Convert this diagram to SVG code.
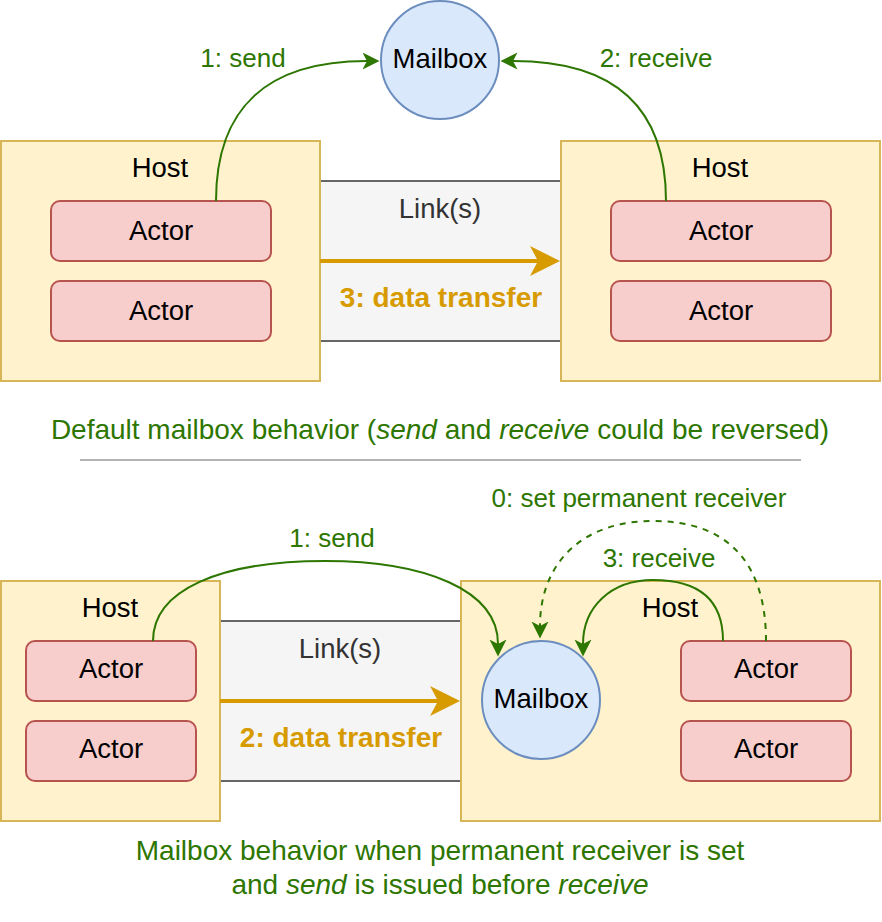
<svg xmlns="http://www.w3.org/2000/svg" width="882" height="922" viewBox="0 0 882 922">
<style>
text{font-family:"Liberation Sans",Arial,sans-serif;font-size:27.5px;text-anchor:middle}
.host{fill:#fff2cc;stroke:#d6b656;stroke-width:2}
.actor{fill:#f8cecc;stroke:#b85450;stroke-width:2}
.mb{fill:#dae8fc;stroke:#6c8ebf;stroke-width:2}
.linkbg{fill:#f5f5f5;stroke:none}
.linkln{stroke:#666666;stroke-width:2;fill:none}
.lt{fill:#333333}
.g{fill:#2d7600}
.el{font-size:26px}
.cap{font-size:28px}
.o{fill:#d79b00;font-weight:bold;font-size:28px}
.ge{fill:none;stroke:#2d7600;stroke-width:2}
.oe{fill:none;stroke:#d79b00;stroke-width:4}
.it{font-style:italic}
</style>
<defs>
<marker id="ag" markerUnits="userSpaceOnUse" markerWidth="18" markerHeight="18" refX="4.5" refY="8.5" orient="auto" viewBox="0 0 18 18">
<path d="M0,0 L17,8.5 L0,17 L4.5,8.5 Z" fill="#2d7600"/>
</marker>
<marker id="ao" markerUnits="userSpaceOnUse" markerWidth="31" markerHeight="31" refX="8" refY="15" orient="auto" viewBox="0 0 31 31">
<path d="M0,0 L30,15 L0,30 L8,15 Z" fill="#d79b00"/>
</marker>
</defs>

<!-- top section -->
<g id="link-top">
<rect class="linkbg" x="320" y="181" width="240" height="160"/>
<line class="linkln" x1="320" y1="181" x2="560" y2="181"/>
<line class="linkln" x1="320" y1="341" x2="560" y2="341"/>
<text class="lt" x="440" y="218">Link(s)</text>
</g>
<g id="host-top-left">
<rect class="host" x="1" y="141" width="319" height="240"/>
<text x="160" y="177">Host</text>
</g>
<g id="actor-tl-1"><rect class="actor" x="51" y="201" width="220" height="60" rx="9"/><text x="161" y="240">Actor</text></g>
<g id="actor-tl-2"><rect class="actor" x="51" y="281" width="220" height="60" rx="9"/><text x="161" y="320">Actor</text></g>
<g id="host-top-right">
<rect class="host" x="561" y="141" width="319" height="240"/>
<text x="720" y="177">Host</text>
</g>
<g id="actor-tr-1"><rect class="actor" x="611" y="201" width="220" height="60" rx="9"/><text x="721" y="240">Actor</text></g>
<g id="actor-tr-2"><rect class="actor" x="611" y="281" width="220" height="60" rx="9"/><text x="721" y="320">Actor</text></g>
<g id="mailbox-top">
<circle class="mb" cx="440" cy="60" r="59"/>
<text x="440" y="68">Mailbox</text>
</g>

<!-- bottom section -->
<g id="link-bottom">
<rect class="linkbg" x="220" y="621" width="240" height="160"/>
<line class="linkln" x1="220" y1="621" x2="460" y2="621"/>
<line class="linkln" x1="220" y1="781" x2="460" y2="781"/>
<text class="lt" x="340" y="658">Link(s)</text>
</g>
<g id="host-bottom-left">
<rect class="host" x="1" y="581" width="219" height="240"/>
<text x="110" y="617">Host</text>
</g>
<g id="actor-bl-1"><rect class="actor" x="26" y="641" width="170" height="60" rx="9"/><text x="111" y="678">Actor</text></g>
<g id="actor-bl-2"><rect class="actor" x="26" y="721" width="170" height="60" rx="9"/><text x="111" y="758">Actor</text></g>
<g id="host-bottom-right">
<rect class="host" x="461" y="581" width="419" height="240"/>
<text x="670" y="617">Host</text>
</g>
<g id="actor-br-1"><rect class="actor" x="681" y="641" width="170" height="60" rx="9"/><text x="766" y="678">Actor</text></g>
<g id="actor-br-2"><rect class="actor" x="681" y="721" width="170" height="60" rx="9"/><text x="766" y="758">Actor</text></g>
<g id="mailbox-bottom">
<circle class="mb" cx="541" cy="700" r="59"/>
<text x="541" y="708">Mailbox</text>
</g>

<g id="connectors">
<path class="ge" d="M216 201 C216 110 265 61 367 61" marker-end="url(#ag)"/>
<path class="ge" d="M666 201 C666 110 617 61 513 61" marker-end="url(#ag)"/>
<path class="oe" d="M320 261 L538 261" marker-end="url(#ao)"/>
<path class="ge" d="M153 641 C153 590 220 561 325 561 C425 561 498 590 498 644" marker-end="url(#ag)"/>
<path class="ge" d="M723 641 C723 600 700 580 653 580 C610 580 583 608 583 644" marker-end="url(#ag)"/>
<path class="ge" d="M766 641 C766 565 730 521 653 521 C580 521 540 565 540 626" stroke-dasharray="6 6" marker-end="url(#ag)"/>
<path class="oe" d="M220 701 L438 701" marker-end="url(#ao)"/>
</g>

<g id="labels">
<text class="g el" x="243" y="67">1: send</text>
<text class="g el" x="656" y="67">2: receive</text>
<text class="o" x="441" y="307">3: data transfer</text>
<text class="g cap" x="440" y="439">Default mailbox behavior (<tspan class="it">send</tspan> and <tspan class="it">receive</tspan> could be reversed)</text>
<line x1="80" y1="460" x2="801" y2="460" stroke="#b3b3b3" stroke-width="2"/>
<text class="g el" x="639" y="507">0: set permanent receiver</text>
<text class="g el" x="659" y="567">3: receive</text>
<text class="g el" x="332" y="547">1: send</text>
<text class="o" x="341" y="747">2: data transfer</text>
<text class="g cap" x="440" y="860">Mailbox behavior when permanent receiver is set</text>
<text class="g cap" x="440" y="894">and <tspan class="it">send</tspan> is issued before <tspan class="it">receive</tspan></text>
</g>
</svg>
